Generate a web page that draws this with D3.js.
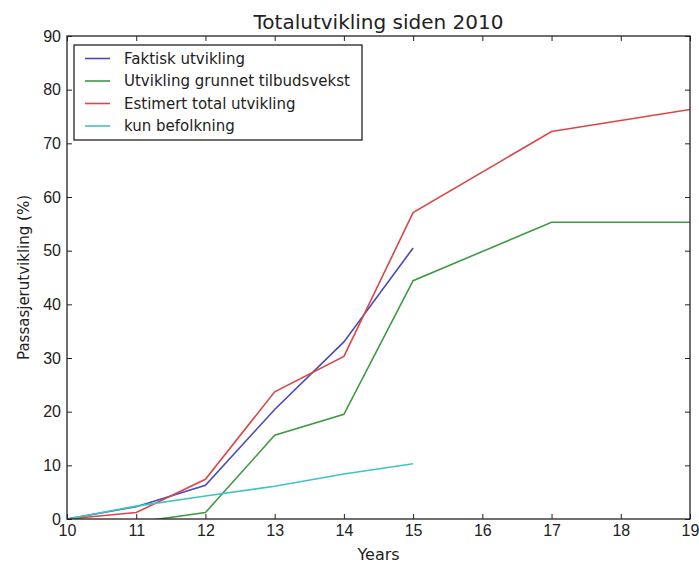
<!DOCTYPE html>
<html>
<head>
<meta charset="utf-8">
<script src="https://cdn.jsdelivr.net/npm/d3@7"></script>
<style>
  body { margin: 0; background: #fff; }
  svg { font-family: "DejaVu Sans", sans-serif; }
</style>
</head>
<body>
<div id="chart"></div>
<script>
// Data
const years = [10, 11, 12, 13, 14, 15, 17, 19];
const faktisk = [0, 2.3, 6.3, 20.4, 33.0, 50.5, null, null];
const tilbud = [0, -0.6, 1.2, 15.6, 19.5, 44.4, 55.3, 55.3];
const estimert = [0, 1.2, 7.4, 23.7, 30.3, 57.1, 72.2, 76.3];
const befolkning = [0, 2.4, 4.3, 6.1, 8.4, 10.3, null, null];

const xTicks = [10, 11, 12, 13, 14, 15, 16, 17, 18, 19];
const yTicks = [0, 10, 20, 30, 40, 50, 60, 70, 80, 90];

const series = [
    { name: 'Faktisk utvikling', values: faktisk, color: '#4a4ab8' },
    { name: 'Utvikling grunnet tilbudsvekst', values: tilbud, color: '#3f9a44' },
    { name: 'Estimert total utvikling', values: estimert, color: '#d9474a' },
    { name: 'kun befolkning', values: befolkning, color: '#3fc4c4' }
];

const W = 699, H = 565;
const margin = { left: 67, right: 9, top: 36, bottom: 46 };
const iw = W - margin.left - margin.right;
const ih = H - margin.top - margin.bottom;

const svg = d3.select('#chart').append('svg')
    .attr('width', W).attr('height', H);

const x = d3.scaleLinear().domain([10, 19]).range([0, iw]);
const y = d3.scaleLinear().domain([0, 90]).range([ih, 0]);

const g = svg.append('g').attr('transform', `translate(${margin.left},${margin.top})`);

g.append('clipPath').attr('id', 'clip')
  .append('rect').attr('width', iw).attr('height', ih);

// Lines
const line = d3.line()
    .defined(d => d[1] != null)
    .x(d => x(d[0]))
    .y(d => y(d[1]));

g.append('g').attr('clip-path', 'url(#clip)')
  .selectAll('path')
  .data(series)
  .join('path')
    .attr('fill', 'none')
    .attr('stroke', d => d.color)
    .attr('stroke-width', 1.6)
    .attr('d', d => line(years.map((yr, i) => [yr, d.values[i]])));

// Axes (ticks inward on all sides, matplotlib classic)
const tickStyle = sel => {
    sel.select('.domain').remove();
    sel.selectAll('.tick line').attr('stroke', '#222');
    sel.selectAll('.tick text').attr('fill', '#222').style('font-size', '16px');
};

g.append('g').attr('transform', `translate(0,${ih})`)
  .call(d3.axisBottom(x).tickValues(xTicks).tickFormat(d3.format('d')).tickSizeInner(-5).tickSizeOuter(0).tickPadding(6))
  .call(tickStyle);
g.append('g')
  .call(d3.axisLeft(y).tickValues(yTicks).tickFormat(d3.format('d')).tickSizeInner(-5).tickSizeOuter(0).tickPadding(6))
  .call(tickStyle);
g.append('g')
  .call(d3.axisTop(x).tickValues(xTicks).tickFormat('').tickSizeInner(-5).tickSizeOuter(0))
  .call(tickStyle);
g.append('g').attr('transform', `translate(${iw},0)`)
  .call(d3.axisRight(y).tickValues(yTicks).tickFormat('').tickSizeInner(-5).tickSizeOuter(0))
  .call(tickStyle);

g.append('rect')
    .attr('width', iw).attr('height', ih)
    .attr('fill', 'none').attr('stroke', '#222').attr('stroke-width', 1.3);

// Title and labels
svg.append('text')
    .attr('x', margin.left + iw / 2).attr('y', 29)
    .attr('text-anchor', 'middle')
    .style('font-size', '20px').attr('fill', '#222')
    .text('Totalutvikling siden 2010');

svg.append('text')
    .attr('x', margin.left + iw / 2).attr('y', 560)
    .attr('text-anchor', 'middle')
    .style('font-size', '16px').attr('fill', '#222')
    .text('Years');

svg.append('text')
    .attr('transform', `translate(29,${margin.top + ih / 2}) rotate(-90)`)
    .attr('text-anchor', 'middle')
    .style('font-size', '15px').attr('fill', '#222')
    .text('Passasjerutvikling (%)');

// Legend
const lg = g.append('g').attr('transform', 'translate(7,9)');
lg.append('rect')
    .attr('width', 288).attr('height', 95)
    .attr('fill', '#fff').attr('stroke', '#222').attr('stroke-width', 1.3);

const rows = lg.selectAll('g.row')
  .data(series)
  .join('g')
    .attr('class', 'row')
    .attr('transform', (d, i) => `translate(0,${13.5 + i * 22.5})`);
rows.append('line')
    .attr('x1', 11).attr('x2', 36)
    .attr('stroke', d => d.color).attr('stroke-width', 1.6);
rows.append('text')
    .attr('x', 50).attr('dy', '0.35em')
    .style('font-size', '15px').attr('fill', '#222')
    .text(d => d.name);
</script>
</body>
</html>
